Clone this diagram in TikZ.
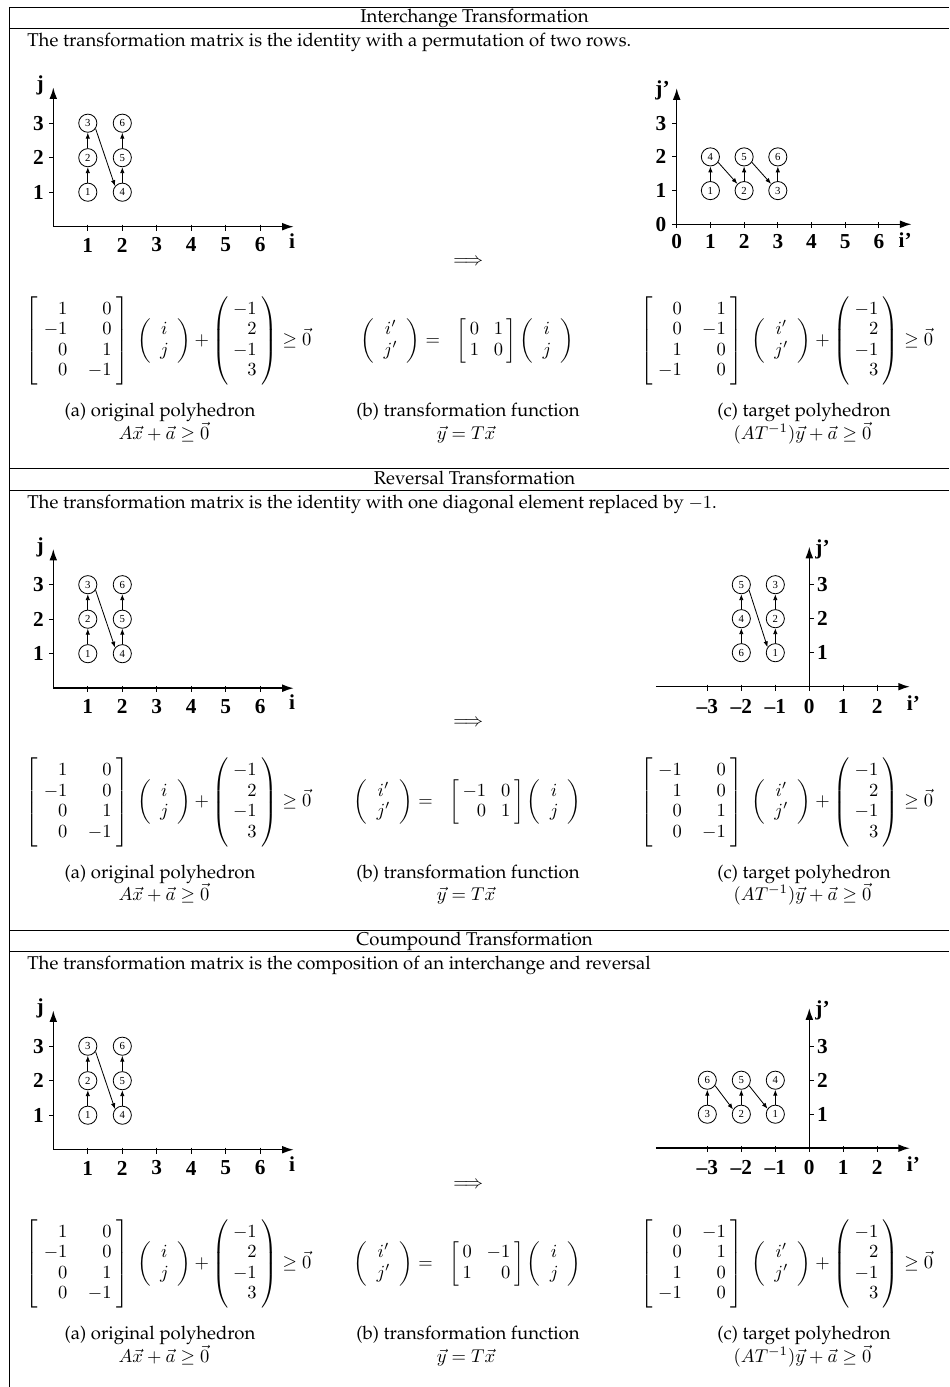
\documentclass[tikz,border=0pt]{standalone}
\usepackage[T1]{fontenc}
\usepackage{fontspec}
\usepackage{amsmath}
\usetikzlibrary{arrows.meta}
\newfontfamily\tms{Liberation Serif}
\newcommand\pal{\fontencoding{T1}\fontfamily{ppl}\selectfont}
\renewcommand\arraystretch{0.92}
\delimiterfactor=950
\delimitershortfall=0pt

\tikzset{
  sepline/.style={line width=0.5pt},
  axis/.style={line width=0.8pt,-{Latex[length=6.3pt,width=4.2pt]}},
  tickmark/.style={line width=0.6pt},
  axlab/.style={font=\tms\fontsize{11.5}{12}\selectfont\bfseries,inner sep=0},
  dot/.style={circle,draw,line width=0.45pt,inner sep=0,minimum size=9.8pt,font=\tms\fontsize{5.8}{6}\selectfont},
  sarr/.style={line width=0.45pt,-{Latex[length=3.2pt,width=2.4pt]}},
  txt/.style={font=\pal,inner sep=0},
  eqn/.style={inner sep=0},
}

% matrices
\newcommand\mtx[1]{\left[\begin{array}{@{\hspace{3pt}}r@{\hspace{11pt}}r@{\hspace{2.5pt}}}#1\end{array}\right]}
\newcommand\smtx[1]{\left[\begin{array}{@{\hspace{2pt}}r@{\hspace{8pt}}r@{\hspace{2pt}}}#1\end{array}\right]}
\newcommand\ijvec{\left(\begin{array}{@{\hspace{5pt}}c@{\hspace{5pt}}}i\\j\end{array}\right)}
\newcommand\ijpvec{\left(\begin{array}{@{\hspace{5pt}}c@{\hspace{5pt}}}i'\\j'\end{array}\right)}
\newcommand\avec{\left(\begin{array}{@{\hspace{2.5pt}}r@{\hspace{2.5pt}}}-1\\2\\-1\\3\end{array}\right)}

\newcommand\leftgraph[1]{%
 \begin{scope}[shift={(53.3,226.7)},x=18.63pt,y=18.63pt]
  \coordinate (#1O) at (0,0);
  \coordinate (#1X) at (6.97,0);
  \coordinate (#1Y) at (0,4.04);
  \draw[axis] (#1O) -- (#1X);
  \draw[axis] (#1O) -- (#1Y);
  \foreach \k in {1,...,6}{\draw[tickmark] (\k,0.06) -- (\k,-0.12);
     \node[axlab] (#1xl\k) at (\k,-0.53) {\k};}
  \foreach \k in {1,2,3}{\draw[tickmark] (0,\k) -- (-0.13,\k);
     \node[axlab] (#1yl\k) at (-0.43,\k) {\k};}
  \node[axlab] (#1il) at (6.92,-0.41) {i};
  \node[axlab] (#1jl) at (-0.38,4.09) {j};
  \node[dot] (#1c1) at (1,1) {1};
  \node[dot] (#1c2) at (1,2) {2};
  \node[dot] (#1c3) at (1,3) {3};
  \node[dot] (#1c4) at (2,1) {4};
  \node[dot] (#1c5) at (2,2) {5};
  \node[dot] (#1c6) at (2,3) {6};
  \draw[sarr] (#1c1) -- (#1c2);
  \draw[sarr] (#1c2) -- (#1c3);
  \draw[sarr] (#1c4) -- (#1c5);
  \draw[sarr] (#1c5) -- (#1c6);
  \draw[sarr] (#1c3.-35) -- (#1c4.140);
 \end{scope}}

\newcommand\negaxes[1]{%
  \coordinate (#1O) at (0,0);
  \coordinate (#1XL) at (-4.51,0);
  \coordinate (#1X) at (2.96,0);
  \coordinate (#1Y) at (0,4.12);
  \draw[axis] (#1XL) -- (#1X);
  \draw[axis] (#1O) -- (#1Y);
  \foreach \k/\t [count=\n] in {-3/–3,-2/–2,-1/–1,0/0,1/1,2/2}{\draw[tickmark] (\k,0.06) -- (\k,-0.12);
     \node[axlab] (#1xl\n) at (\k,-0.57) {\t};}
  \foreach \k in {1,2,3}{\draw[tickmark] (0,\k) -- (0.13,\k);
     \node[axlab] (#1yl\k) at (0.39,\k) {\k};}
  \node[axlab] (#1il) at (3.06,-0.47) {i’};
  \node[axlab] (#1jl) at (0.39,4.04) {j’};
}

\newcommand\captions[1]{%
 \node[txt,anchor=base] (#1ca) at (160,416.7) {(a) original polyhedron};
 \node[txt,anchor=base] (#1cam) at (164,439) {$A\vec{x}+\vec{a}\geq\vec{0}$};
 \node[txt,anchor=base] (#1cb) at (468,416.7) {(b) transformation function};
 \node[txt,anchor=base] (#1cbm) at (466,439) {$\vec{y}=T\vec{x}$};
 \node[txt,anchor=base] (#1cc) at (804,416.7) {(c) target polyhedron};
 \node[txt,anchor=base] (#1ccm) at (802.5,439) {$(AT^{-1})\vec{y}+\vec{a}\geq\vec{0}$};
 \node[eqn] (#1imp) at (468.3,261.7) {$\Longrightarrow$};
 \node[eqn] (#1eqa) at (168.7,340.8) {$\mtx{1&0\\-1&0\\0&1\\0&-1}\hspace{3pt}\ijvec\mathord{+}\avec\geq\vec{0}$};
}

\begin{document}
\begin{tikzpicture}[x=0.54pt,y=-0.54pt]
\useasboundingbox (0,0) rectangle (949,1387);

% frame lines
\coordinate (fl0) at (9,7);
\coordinate (fl1) at (9,1387);
\draw[sepline] (fl0) -- (fl1);
\foreach \yy [count=\n] in {7,28.5,468.5,490,930,951.5}{
  \coordinate (hl\n a) at (9,\yy);
  \coordinate (hl\n b) at (949,\yy);
  \draw[sepline] (hl\n a) -- (hl\n b);
}

% ===== Section 1 =====
\begin{scope}
 \node[txt,anchor=base] (t1) at (474.5,22.5) {Interchange Transformation};
 \node[txt,anchor=base west] (d1) at (27,46.8) {The transformation matrix is the identity with a permutation of two rows.};
 \leftgraph{A}
 \begin{scope}[shift={(676.7,224.3)},x=18.2pt,y=18.2pt]
  \coordinate (BO) at (0,0);
  \coordinate (BX) at (6.97,0);
  \coordinate (BY) at (0,4.04);
  \draw[axis] (BO) -- (BX);
  \draw[axis] (BO) -- (BY);
  \foreach \k in {0,...,6}{\draw[tickmark] (\k,0.06) -- (\k,-0.12);
     \node[axlab] (Bxl\k) at (\k,-0.52) {\k};}
  \foreach \k in {0,...,3}{\draw[tickmark] (0,\k) -- (-0.13,\k);
     \node[axlab] (Byl\k) at (-0.47,\k) {\k};}
  \node[axlab] (Bil) at (6.78,-0.46) {i’};
  \node[axlab] (Bjl) at (-0.42,3.97) {j’};
  \node[dot] (Bc1) at (1,1) {1};
  \node[dot] (Bc2) at (2,1) {2};
  \node[dot] (Bc3) at (3,1) {3};
  \node[dot] (Bc4) at (1,2) {4};
  \node[dot] (Bc5) at (2,2) {5};
  \node[dot] (Bc6) at (3,2) {6};
  \draw[sarr] (Bc1) -- (Bc4);
  \draw[sarr] (Bc2) -- (Bc5);
  \draw[sarr] (Bc3) -- (Bc6);
  \draw[sarr] (Bc4.-35) -- (Bc2.135);
  \draw[sarr] (Bc5.-35) -- (Bc3.135);
 \end{scope}
 \captions{A}
 \node[eqn] (Aeqb) at (467.5,340.8) {$\ijpvec=\hspace{6pt}\smtx{0&1\\1&0}\ijvec$};
 \node[eqn] (Aeqc) at (786.7,340.8) {$\mtx{0&1\\0&-1\\1&0\\-1&0}\hspace{3pt}\ijpvec+\avec\geq\vec{0}$};
\end{scope}

% ===== Section 2 =====
\begin{scope}[shift={(0,461.5)}]
 \node[txt,anchor=base] (t2) at (474.5,22.5) {Reversal Transformation};
 \node[txt,anchor=base west] (d2) at (27,46.8) {The transformation matrix is the identity with one diagonal element replaced by $-1$.};
 \leftgraph{C}
 \begin{scope}[shift={(809.3,225.2)},x=18.36pt,y=18.36pt]
  \negaxes{D}
  \node[dot] (Dc6) at (-2,1) {6};
  \node[dot] (Dc4) at (-2,2) {4};
  \node[dot] (Dc5) at (-2,3) {5};
  \node[dot] (Dc1) at (-1,1) {1};
  \node[dot] (Dc2) at (-1,2) {2};
  \node[dot] (Dc3) at (-1,3) {3};
  \draw[sarr] (Dc6) -- (Dc4);
  \draw[sarr] (Dc4) -- (Dc5);
  \draw[sarr] (Dc1) -- (Dc2);
  \draw[sarr] (Dc2) -- (Dc3);
  \draw[sarr] (Dc5.-35) -- (Dc1.145);
 \end{scope}
 \captions{C}
 \node[eqn] (Ceqb) at (467.5,340.8) {$\ijpvec=\hspace{6pt}\smtx{-1&0\\0&1}\ijvec$};
 \node[eqn] (Ceqc) at (786.7,340.8) {$\mtx{-1&0\\1&0\\0&1\\0&-1}\hspace{3pt}\ijpvec+\avec\geq\vec{0}$};
\end{scope}

% ===== Section 3 =====
\begin{scope}[shift={(0,923)}]
 \node[txt,anchor=base] (t3) at (474.5,22.5) {Coumpound Transformation};
 \node[txt,anchor=base west] (d3) at (27,46.8) {The transformation matrix is the composition of an interchange and reversal};
 \leftgraph{E}
 \begin{scope}[shift={(809.3,225.2)},x=18.36pt,y=18.36pt]
  \negaxes{F}
  \node[dot] (Fc3) at (-3,1) {3};
  \node[dot] (Fc6) at (-3,2) {6};
  \node[dot] (Fc2) at (-2,1) {2};
  \node[dot] (Fc5) at (-2,2) {5};
  \node[dot] (Fc1) at (-1,1) {1};
  \node[dot] (Fc4) at (-1,2) {4};
  \draw[sarr] (Fc3) -- (Fc6);
  \draw[sarr] (Fc2) -- (Fc5);
  \draw[sarr] (Fc1) -- (Fc4);
  \draw[sarr] (Fc6.-35) -- (Fc2.150);
  \draw[sarr] (Fc5.-35) -- (Fc1.145);
 \end{scope}
 \captions{E}
 \node[eqn] (Eeqb) at (467.5,340.8) {$\ijpvec=\hspace{6pt}\smtx{0&-1\\1&0}\ijvec$};
 \node[eqn] (Eeqc) at (786.7,340.8) {$\mtx{0&-1\\0&1\\1&0\\-1&0}\hspace{3pt}\ijpvec+\avec\geq\vec{0}$};
\end{scope}

\end{tikzpicture}
\end{document}
